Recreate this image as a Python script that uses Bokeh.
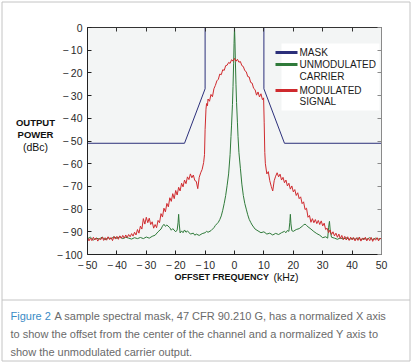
from bokeh.plotting import figure
from bokeh.models import Range1d, LinearAxis, FixedTicker
from bokeh.core.properties import value
from bokeh.embed import file_html
from bokeh.resources import INLINE

# ---------------- data ----------------
x_ticks = [-50, -40, -30, -20, -10, 0, 10, 20, 30, 40, 50]
x_tick_labels = ["\u2212\u200950", "\u2212\u200940", "\u2212\u200930", "\u2212\u200920", "\u2212\u200910",
                 "0", "10", "20", "30", "40", "50"]
y_ticks = [0, -10, -20, -30, -40, -50, -60, -70, -80, -90, -100]
y_tick_labels = ["0", "\u2212\u200910", "\u2212\u200920", "\u2212\u200930", "\u2212\u200940", "\u2212\u200950",
                 "\u2212\u200960", "\u2212\u200970", "\u2212\u200980", "\u2212\u200990", "\u2212\u2009100"]

mask_khz = [-50, -17, -10, -10, 10, 10, 17, 50]
mask_db = [-51, -51, -27, 0, 0, -27, -51, -51]

carrier_khz = [-50, -49, -48, -47, -46, -45, -44, -43, -42, -41, -40, -39, -38, -37, -36,
               -35, -34, -33, -32, -31, -30, -29, -28, -27, -26, -25, -24.5, -24, -23.5, -23,
               -22, -21.5, -21, -20, -19.5, -19.2, -19, -18.8, -18.5, -18, -17.5, -17, -16.5, -16,
               -15, -14, -13.5, -13, -12, -11, -10, -9.5, -9, -8, -7, -6.5, -6, -5.5, -5, -4.5,
               -4, -3.5, -3, -2.5, -2, -1.5, -1.2, -1, -0.7, -0.5, -0.3, -0.15, 0, 0.15, 0.3,
               0.5, 0.7, 1, 1.2, 1.5, 2, 2.5, 3, 3.5, 4, 4.5, 5, 5.5, 6, 7, 8, 9, 10, 11, 12,
               13, 14, 15, 16, 17, 17.5, 18, 18.5, 18.8, 19, 19.2, 19.5, 20, 21, 22, 23, 23.5,
               24, 24.5, 25, 26, 27, 28, 29, 30, 31, 31.7, 32, 32.3, 32.6, 33, 34, 35, 36, 37,
               38, 39, 40, 41, 42, 43, 44, 45, 46, 47, 48, 49, 50]
carrier_db = [-93.0, -92.4, -93.6, -92.8, -93.2, -92.3, -93.5, -92.6, -93.1, -92.2, -92.9, -92.1, -93.0, -92.4, -92.8,
              -93.2, -92.6, -93.0, -92.5, -93.0, -92.3, -92.8, -92.0, -91.5, -90.0, -88.8, -87.5, -86.7, -87.6, -87.0,
              -88.2, -89.3, -88.6, -90.0, -89.2, -86.0, -82.3, -86.5, -90.5, -89.6, -90.4, -89.2, -90.2, -89.6,
              -91.0, -90.6, -91.5, -91.0, -91.6, -90.8, -90.4, -89.8, -90.2, -89.5, -88.2, -87.2, -86.5, -85.8, -84.6, -83.0,
              -80.5, -77.5, -74.0, -69.5, -64.5, -56.0, -48.0, -43.0, -34.0, -26.0, -16.0, -7.0, 0.0, -6.0, -15.0,
              -25.0, -33.0, -42.0, -48.0, -55.0, -62.0, -69.0, -74.0, -77.5, -80.0, -82.5, -84.5, -85.8, -87.0, -88.8, -89.6, -90.4, -90.0, -91.0, -90.6,
              -91.4, -90.7, -91.2, -90.4, -89.8, -90.4, -89.4, -89.8, -86.0, -82.3, -86.5, -89.5, -89.8, -89.0, -88.6, -87.6, -87.0,
              -86.6, -87.2, -87.8, -88.8, -89.9, -90.8, -91.5, -92.6, -92.2, -92.8, -88.0, -85.4, -90.0, -92.4, -92.8, -93.3, -92.7, -93.2,
              -92.6, -93.4, -92.8, -93.3, -92.7, -93.5, -92.9, -93.3, -92.6, -93.4, -92.8, -93.2, -92.9]

signal_khz = [-50, -49.5, -49, -48.5, -48, -47.5, -47, -46.5, -46, -45.5, -45, -44.5, -44, -43.5, -43,
              -42.5, -42, -41.5, -41, -40.5, -40, -39.5, -39, -38.5, -38, -37.5, -37, -36.5, -36,
              -35.5, -35, -34.5, -34, -33.5, -33, -32.5, -32, -31.5, -31, -30.5, -30, -29.5, -29,
              -28.5, -28, -27.5, -27, -26.5, -26, -25.5, -25, -24.5, -24, -23.5, -23, -22.5, -22,
              -21.5, -21, -20.5, -20, -19.5, -19, -18.5, -18, -17.5, -17, -16.5, -16, -15.5, -15,
              -14.5, -14, -13.5, -13, -12.5, -12, -11.5, -11, -10.5, -10.2, -10, -9.7, -9.5, -9.2,
              -9, -8.5, -8, -7.5, -7, -6.5, -6, -5.5, -5, -4.5, -4, -3.5, -3, -2.5, -2, -1.5, -1,
              -0.5, 0, 0.5, 1, 1.5, 2, 2.5, 3, 3.5, 4, 4.5, 5, 5.5, 6, 6.5, 7, 7.5, 8, 8.5, 9,
              9.5, 9.9, 10.1, 10.3, 10.5, 11, 11.5, 12, 12.5, 13, 13.5, 14, 14.5, 15, 15.5, 16,
              16.5, 17, 17.5, 18, 18.5, 19, 19.5, 20, 20.5, 21, 21.5, 22, 22.5, 23, 23.5, 24,
              24.5, 25, 25.5, 26, 26.5, 27, 27.5, 28, 28.5, 29, 29.5, 30, 30.5, 31, 31.5, 32,
              32.5, 33, 33.5, 34, 34.5, 35, 35.5, 36, 36.5, 37, 37.5, 38, 38.5, 39, 39.5, 40,
              40.5, 41, 41.5, 42, 42.5, 43, 43.5, 44, 44.5, 45, 45.5, 46, 46.5, 47, 47.5, 48,
              48.5, 49, 49.5, 50]
signal_db = [-92.5, -94.0, -92.8, -93.9, -92.4, -93.6, -92.7, -94.1, -92.9, -93.5, -92.3, -93.8, -92.6, -93.7, -92.2,
             -93.4, -92.5, -93.9, -92.1, -93.2, -92.0, -93.3, -91.8, -92.9, -91.6, -92.8, -91.4, -92.5, -91.2,
             -92.2, -90.8, -91.9, -90.2, -91.4, -89.0, -90.6, -87.5, -88.8, -84.2, -86.6, -83.6, -86.0, -84.0,
             -86.8, -85.6, -88.4, -86.8, -88.2, -85.0, -86.0, -82.0, -83.5, -79.6, -81.2, -77.5, -79.0, -75.0,
             -76.6, -73.2, -75.4, -71.8, -73.8, -70.4, -72.0, -68.6, -70.2, -67.2, -68.8, -65.8, -67.0, -64.5,
             -66.2, -65.0, -67.4, -67.8, -71.0, -66.0, -64.0, -62.5, -59.5, -56.0, -45.0, -36.0, -33.5, -34.5,
             -31.5, -32.5, -29.5, -30.5, -27.0, -25.5, -23.5, -22.8, -20.5, -20.8, -18.6, -18.9, -16.8, -16.6, -15.4, -15.8, -14.2,
             -14.8, -13.6, -14.9, -14.0, -15.3, -15.0, -16.8, -17.2, -19.0, -19.5, -21.6, -21.8, -24.2, -24.5, -26.8, -27.4, -29.8, -28.4, -30.6, -29.2,
             -31.8, -31.0, -42.0, -55.0, -60.0, -64.5, -63.5, -67.5, -70.0, -72.0, -67.5, -65.5, -64.0, -65.8, -64.6, -67.2,
             -66.0, -68.4, -67.2, -69.8, -68.6, -71.2, -69.8, -72.4, -71.4, -74.0, -72.8, -75.4, -74.6, -77.6, -76.8, -80.2,
             -79.6, -83.6, -82.8, -85.8, -84.2, -86.0, -84.6, -86.4, -85.0, -86.8, -85.2, -87.4, -86.2, -89.0, -88.4, -90.4,
             -89.2, -91.2, -90.0, -91.8, -90.6, -92.4, -91.0, -93.0, -91.6, -93.4, -92.0, -93.6, -92.2, -93.8, -92.4, -93.6,
             -92.5, -94.0, -92.6, -93.8, -92.3, -94.1, -92.7, -93.6, -92.4, -94.0, -92.8, -93.9, -92.5, -94.2, -92.9, -93.7,
             -92.6, -94.0, -92.8, -93.4]

legend_labels = ["MASK", "UNMODULATED\nCARRIER", "MODULATED\nSIGNAL"]
caption_lead = "Figure 2"
caption_lines = ["A sample spectral mask, 47 CFR 90.210 G, has a normalized X axis",
                 "to show the offset from the center of the channel and a normalized Y axis to",
                 "show the unmodulated carrier output."]

FONT = "Liberation Sans"
MASK_C = "#2b2f7a"
CARR_C = "#2f7a3a"
SIG_C = "#cf2a2e"

# frame geometry (page pixels) used only to place decorations
FL, FT, FW, FH = 87, 27, 294, 227
W, H = 412, 362


def X(px):
    return (px - FL) / FW * 100 - 50


def Y(py):
    return -(py - FT) / FH * 100


p = figure(width=W, height=H, x_range=Range1d(-50, 50), y_range=Range1d(-100, 0),
           output_backend="svg", toolbar_location=None, x_axis_type=None, y_axis_type=None,
           min_border_left=FL, min_border_right=W - FL - FW, min_border_top=FT,
           min_border_bottom=H - FT - FH,
           background_fill_color="#f3f5f5", border_fill_color="white", outline_line_color=None)
p.grid.visible = False


def axis(ticks, labels, show, color, standoff=4):
    ax = LinearAxis(ticker=FixedTicker(ticks=ticks),
                    major_label_overrides={t: (l if show else "") for t, l in zip(ticks, labels)},
                    major_tick_in=4, major_tick_out=0, minor_tick_in=0, minor_tick_out=0,
                    axis_line_color=color, major_tick_line_color=color,
                    major_label_standoff=standoff,
                    major_label_text_font=FONT,
                    major_label_text_font_size="10.5px" if show else "0px",
                    major_label_text_color="#2a2a2a")
    return ax


p.add_layout(axis(x_ticks, x_tick_labels, True, "#222222", 4), "below")
p.add_layout(axis(y_ticks, y_tick_labels, True, "#222222", 5), "left")
p.add_layout(axis(x_ticks, x_tick_labels, False, "#333333"), "above")
p.add_layout(axis(y_ticks, y_tick_labels, False, "#8a8a8a"), "right")

# data
p.line(mask_khz, mask_db, line_color=MASK_C, line_width=1)
p.line(carrier_khz, carrier_db, line_color=CARR_C, line_width=1)
p.line(signal_khz, signal_db, line_color=SIG_C, line_width=1)

# legend (manual)
p.quad(left=[X(281)], right=[X(379)], top=[Y(43)], bottom=[Y(110)], fill_color="white", line_color=None)
for col, py in zip([MASK_C, CARR_C, SIG_C], [52, 64, 90]):
    p.line([X(275), X(297)], [Y(py), Y(py)], line_color=col, line_width=3)
leg_rows = []
for lab in legend_labels:
    leg_rows.extend(lab.split("\n"))
p.text(x=[X(299)] * 5, y=[Y(py) for py in [52, 64, 76, 90, 101]], text=leg_rows,
       text_font=value(FONT), text_font_size="10px", text_color="#1a1a1a",
       text_baseline="middle", text_align="left")


def txt(px, py, s, size, color, style="normal", align="left", baseline="middle"):
    p.text(x=[X(px)], y=[Y(py)], text=[s], text_font=value(FONT), text_font_size=size,
           text_font_style=style, text_color=color, text_align=align, text_baseline=baseline,
           level="overlay")


# axis titles
txt(35, 122, "OUTPUT", "9.5px", "#111111", "bold", "center")
txt(35, 134, "POWER", "9.5px", "#111111", "bold", "center")
txt(35, 146, "(dBc)", "10.5px", "#111111", "normal", "center")
txt(174, 276, "OFFSET FREQUENCY", "9px", "#111111", "bold")
txt(273, 276, "(kHz)", "10.5px", "#111111")

# frame lines and separator
GRAY = "#c4c4c4"
p.segment(x0=[X(1.5), X(1.5), X(409.5), X(1.5), X(1.5)],
          y0=[Y(1.5), Y(1.5), Y(1.5), Y(299.5), Y(360.5)],
          x1=[X(409.5), X(1.5), X(409.5), X(409.5), X(409.5)],
          y1=[Y(1.5), Y(360.5), Y(360.5), Y(299.5), Y(360.5)],
          line_color=GRAY, line_width=1, level="overlay")

# caption
txt(10, 315, caption_lead, "11px", "#3a8cc6", baseline="alphabetic")
for i, (line, py) in enumerate(zip(caption_lines, [315, 333, 351])):
    txt(54 if i == 0 else 10, py, line, "11px", "#6a6a6a", baseline="alphabetic")

open("out.html", "w").write(file_html(p, INLINE))
